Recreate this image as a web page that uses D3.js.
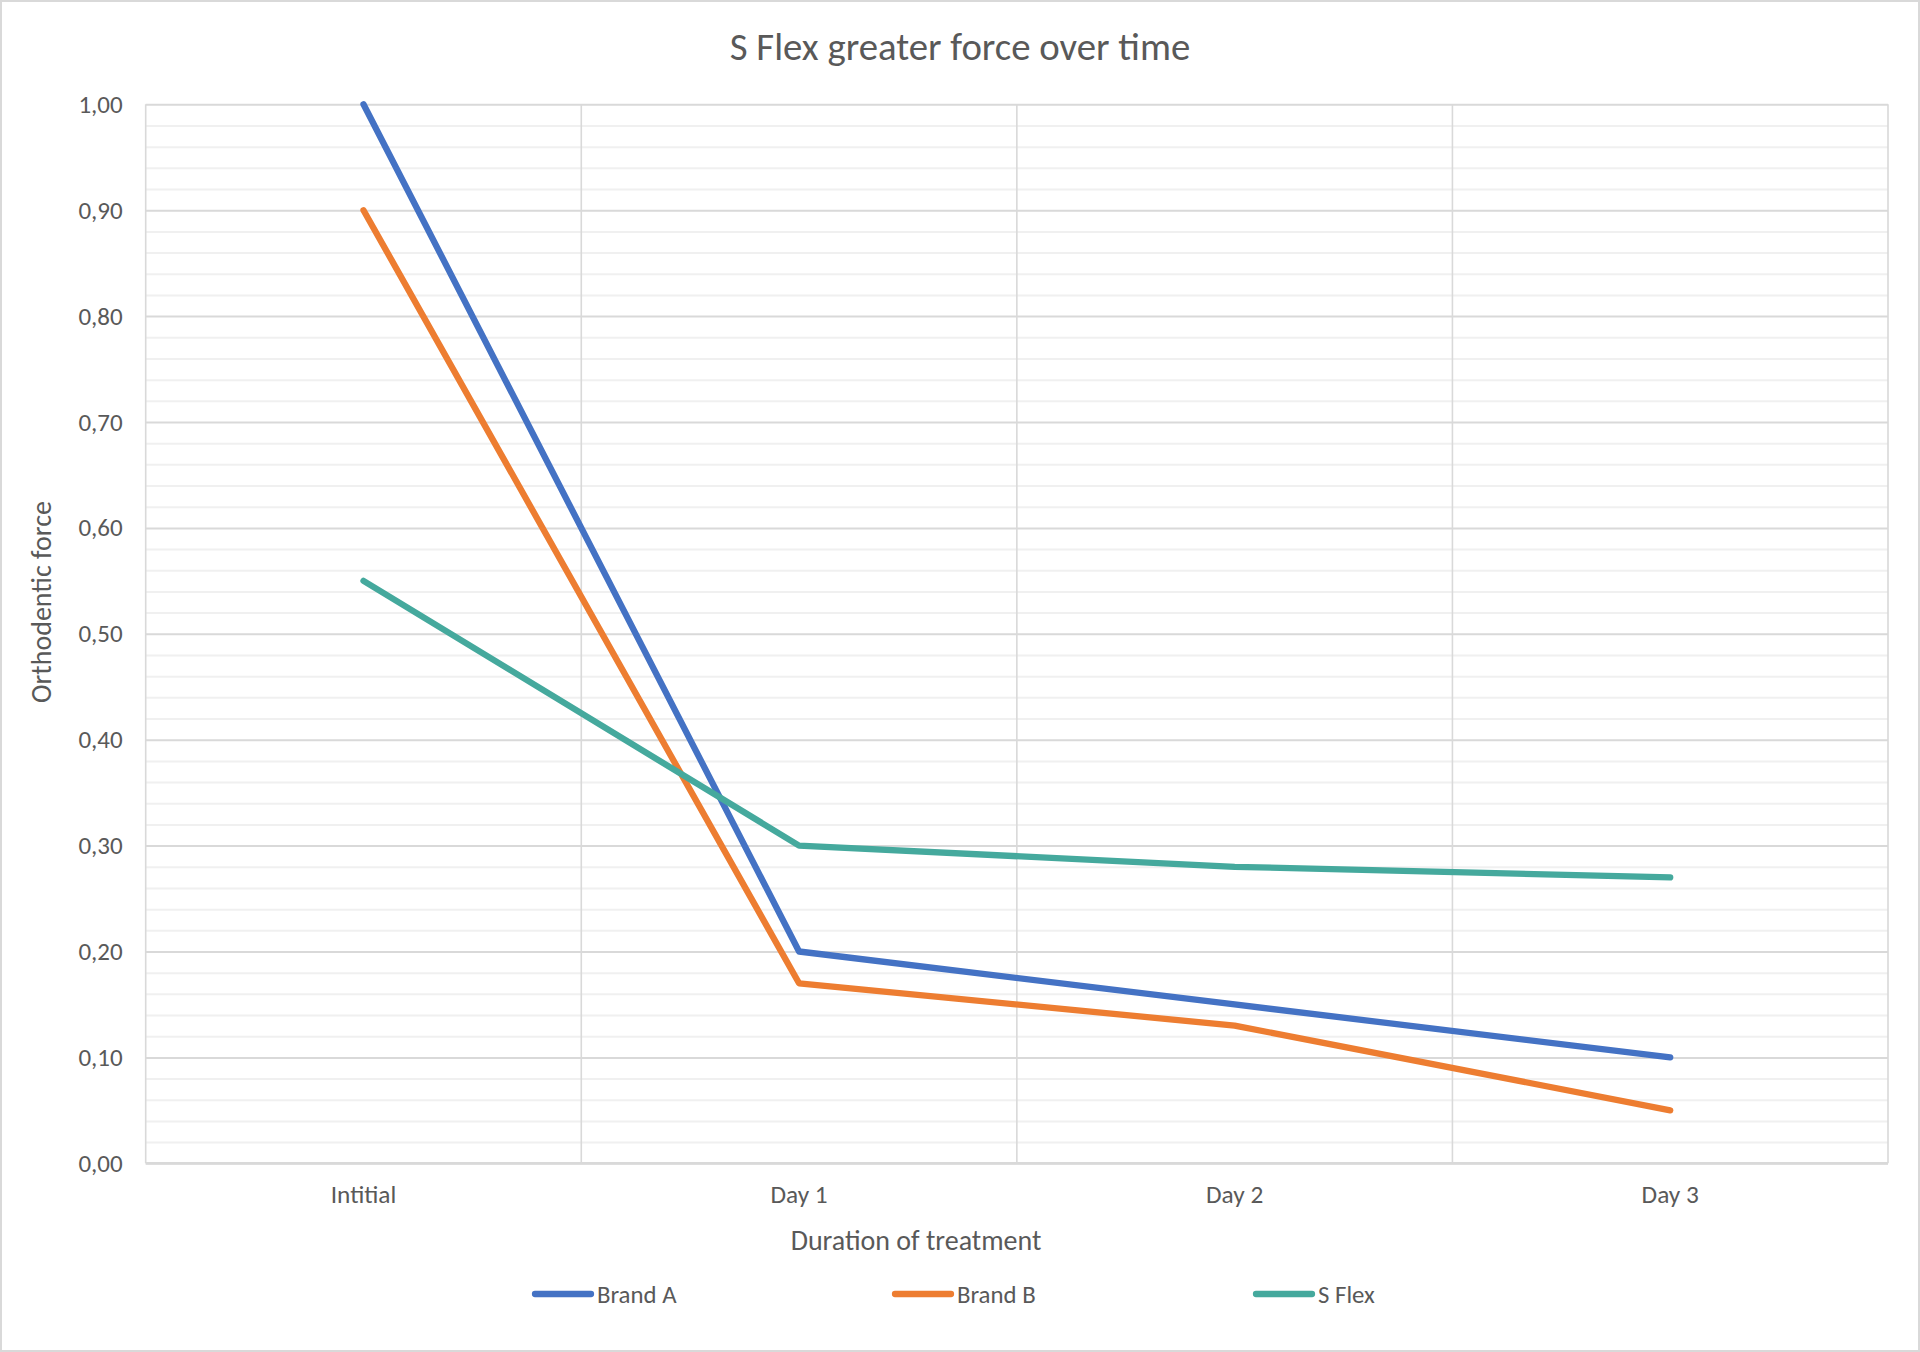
<!DOCTYPE html>
<html>
<head>
<meta charset="utf-8">
<script src="https://cdn.jsdelivr.net/npm/d3@7/dist/d3.min.js"></script>
<style>
  html, body { margin: 0; padding: 0; background: #ffffff; }
  svg { display: block; }
  text { font-family: Carlito, Calibri, Lato, "Open Sans", sans-serif; fill: #595959; }
</style>
</head>
<body>
<svg id="chart" width="1920" height="1352"></svg>
<script>
// ---- data ----
const categories = ["Intitial", "Day 1", "Day 2", "Day 3"];
const seriesNames = ["Brand A", "Brand B", "S Flex"];
const brandA = [1.00, 0.20, 0.15, 0.10];
const brandB = [0.90, 0.17, 0.13, 0.05];
const sFlex  = [0.55, 0.30, 0.28, 0.27];
const yTicks = [0, 0.1, 0.2, 0.3, 0.4, 0.5, 0.6, 0.7, 0.8, 0.9, 1.0];
const titleText = "S Flex greater force over time";
const xTitle = "Duration of treatment";
const yTitle = "Orthodentic force";

const seriesValues = [brandA, brandB, sFlex];
const colors = ["#4472C4", "#ED7D31", "#45A99D"];

// ---- layout ----
const W = 1920, H = 1352;
const plot = { left: 145.7, right: 1888, top: 104.3, bottom: 1163.3 };
const svg = d3.select("#chart");

// border
svg.append("rect").attr("x", 1).attr("y", 1).attr("width", W - 2).attr("height", H - 2)
  .attr("fill", "#ffffff").attr("stroke", "#d9d9d9").attr("stroke-width", 2);

const x = d3.scaleBand().domain(categories).range([plot.left, plot.right]).padding(0);
const y = d3.scaleLinear().domain([0, 1]).range([plot.bottom, plot.top]);
const locale = d3.formatLocale({ decimal: ",", thousands: ".", grouping: [3], currency: ["", ""] });
const fmt = locale.format(".2f");

// minor gridlines
const minorTicks = d3.range(0, 101, 2).map(d => d / 100).filter(d => Math.round(d * 100) % 10 !== 0);
svg.append("g").attr("transform", `translate(${plot.left},0)`)
  .call(d3.axisLeft(y).tickValues(minorTicks).tickSize(-(plot.right - plot.left)).tickFormat(""))
  .call(g => g.select(".domain").remove())
  .call(g => g.selectAll("line").attr("stroke", "#f0f0f0").attr("stroke-width", 2));

// vertical gridlines at category boundaries
const bounds = categories.map(c => x(c)).concat([plot.right]);
svg.append("g").selectAll("line").data(bounds).join("line")
  .attr("x1", d => d).attr("x2", d => d)
  .attr("y1", plot.top).attr("y2", plot.bottom)
  .attr("stroke", "#d9d9d9").attr("stroke-width", 1.6);

// major gridlines + y labels
svg.append("g").attr("transform", `translate(${plot.left},0)`)
  .call(d3.axisLeft(y).tickValues(yTicks).tickSize(-(plot.right - plot.left)).tickPadding(23).tickFormat(fmt))
  .call(g => g.select(".domain").remove())
  .call(g => g.selectAll("line").attr("stroke", "#d9d9d9").attr("stroke-width", 2))
  .call(g => g.selectAll("text").attr("font-size", 25).attr("fill", "#595959")
        .style("font-family", "Carlito, Calibri, Lato, sans-serif"));

// bottom axis line
svg.append("line").attr("x1", plot.left).attr("x2", plot.right)
  .attr("y1", plot.bottom).attr("y2", plot.bottom)
  .attr("stroke", "#d9d9d9").attr("stroke-width", 2.5);

// x labels
svg.append("g").attr("transform", `translate(0,${plot.bottom})`)
  .call(d3.axisBottom(x).tickSize(0).tickPadding(22))
  .call(g => g.select(".domain").remove())
  .call(g => g.selectAll("text").attr("font-size", 25.3).attr("fill", "#595959")
        .style("font-family", "Carlito, Calibri, Lato, sans-serif"));

// lines
const line = d3.line()
  .x((d, i) => x(categories[i]) + x.bandwidth() / 2)
  .y(d => y(d));
svg.append("g").selectAll("path").data(seriesValues).join("path")
  .attr("d", d => line(d))
  .attr("fill", "none")
  .attr("stroke", (d, i) => colors[i])
  .attr("stroke-width", 6.3)
  .attr("stroke-linecap", "round")
  .attr("stroke-linejoin", "round");

// title
svg.append("text").attr("x", 960).attr("y", 46.5).attr("text-anchor", "middle")
  .attr("dominant-baseline", "central").attr("font-size", 38.8).text(titleText);

// axis titles
svg.append("text").attr("x", 916).attr("y", 1240).attr("text-anchor", "middle")
  .attr("dominant-baseline", "central").attr("font-size", 28).text(xTitle);
svg.append("text").attr("transform", "translate(41.5,602) rotate(-90)").attr("text-anchor", "middle")
  .attr("dominant-baseline", "central").attr("font-size", 28).text(yTitle);

// legend
const legendX = [535, 895, 1256];
const lg = svg.append("g").selectAll("g").data(seriesNames).join("g")
  .attr("transform", (d, i) => `translate(${legendX[i]},1294)`);
lg.append("line").attr("x1", 0).attr("x2", 56).attr("y1", 0).attr("y2", 0)
  .attr("stroke", (d, i) => colors[i]).attr("stroke-width", 6.3).attr("stroke-linecap", "round");
lg.append("text").attr("x", 62).attr("y", 0).attr("dominant-baseline", "central")
  .attr("font-size", 24.8).text(d => d);
</script>
</body>
</html>
